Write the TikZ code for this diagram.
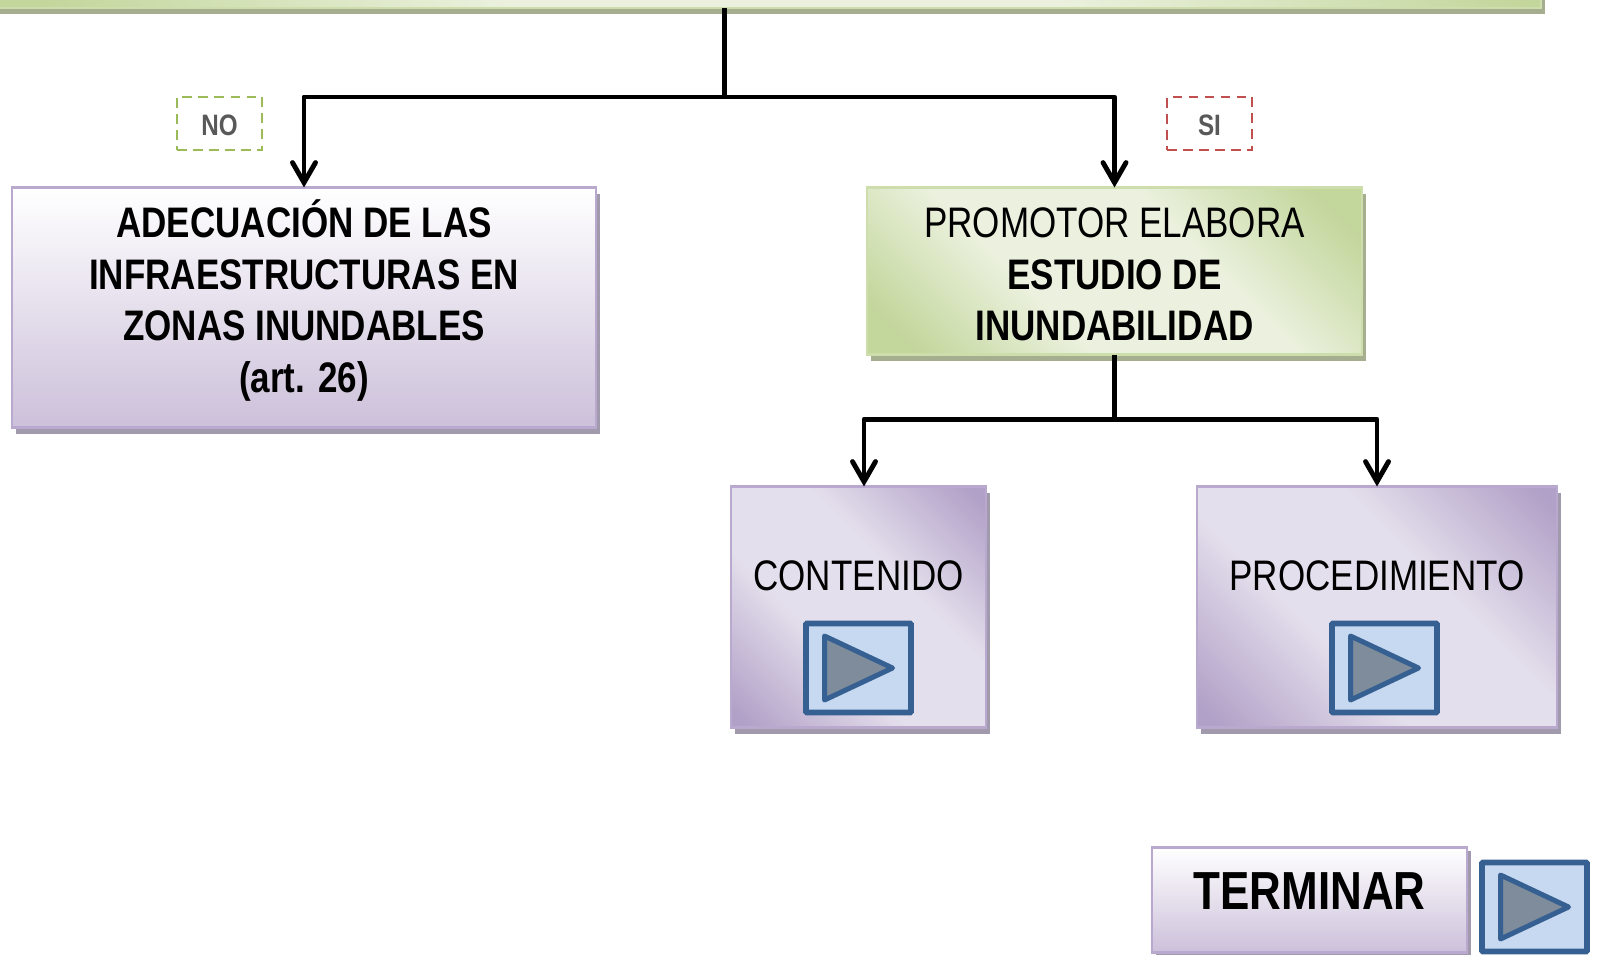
\documentclass[tikz,border=0pt]{standalone}
\usepackage{fontspec}
\setmainfont[FakeStretch=0.82]{Liberation Sans}
\usetikzlibrary{arrows.meta, positioning, shadows}

\definecolor{purpleline}{HTML}{B9A9CE}
\definecolor{purpledark}{HTML}{B1A0C7}
\definecolor{purplelight}{HTML}{E4DFEC}
\definecolor{purpleend}{HTML}{CCC0DA}
\definecolor{purpleshadow}{HTML}{A09AAC}
\definecolor{greenline}{HTML}{CDDDAC}
\definecolor{greendark}{HTML}{C3D69B}
\definecolor{greenlight}{HTML}{EBF1DE}
\definecolor{greenshadow}{HTML}{A5AF90}
\definecolor{btnline}{HTML}{376092}
\definecolor{btnfill}{HTML}{C6D9F1}
\definecolor{btnmark}{HTML}{7F8C9C}
\definecolor{notext}{HTML}{595959}
\definecolor{noline}{HTML}{9BBB59}
\definecolor{siline}{HTML}{C0504D}

\pgfdeclareverticalshading{purpleband}{100bp}{color(0bp)=(purpledark); color(17bp)=(purpledark); color(40bp)=(purplelight); color(60bp)=(purplelight); color(83bp)=(purpledark); color(100bp)=(purpledark)}
\pgfdeclareverticalshading{greenband}{100bp}{color(0bp)=(greendark); color(20bp)=(greendark); color(39bp)=(greenlight); color(61bp)=(greenlight); color(80bp)=(greendark); color(100bp)=(greendark)}

\tikzstyle{basebox}=[rectangle, outer sep=0pt, align=center, text=black, font=\fontsize{24.3}{29.3}\selectfont]
\tikzstyle{purplebox}=[basebox, draw=purpleline, line width=0.05cm, top color=white, bottom color=purpleend, drop shadow={shadow xshift=0.08cm, shadow yshift=-0.13cm, fill=purpleshadow, opacity=1}]
\tikzstyle{bandbox}=[basebox, draw=purpleline, line width=0.05cm, shading=purpleband, shading angle=-45, drop shadow={shadow xshift=0.08cm, shadow yshift=-0.13cm, fill=purpleshadow, opacity=1}]
\tikzstyle{greenbox}=[basebox, draw=greenline, line width=0.05cm, shading=greenband, shading angle=-45, drop shadow={shadow xshift=0.08cm, shadow yshift=-0.12cm, fill=greenshadow, opacity=1}]
\tikzstyle{tag}=[rectangle, outer sep=0pt, dash pattern=on 0.19cm off 0.13cm, line width=0.05cm, minimum width=1.7cm, minimum height=1.06cm, text=notext, text height=0.48cm, font=\fontsize{16.8}{20}\selectfont\bfseries]
\tikzstyle{btn}=[rectangle, outer sep=0pt, draw=btnline, line width=0.115cm, rounded corners=0.02cm, fill=btnfill, minimum width=2.1cm, minimum height=1.78cm]
\tikzstyle{play}=[draw=btnline, line width=0.1cm, line join=round, fill=btnmark]
\tikzstyle{arr}=[line width=0.098cm, line join=round, -{Straight Barb[length=0.4cm, width=0.46cm, line cap=round]}]
\tikzstyle{wire}=[line width=0.098cm, line join=round]

\begin{document}
\begin{tikzpicture}
    \useasboundingbox (0,0) rectangle (31.96,-19.08);
    \clip (0,0) rectangle (31.96,-19.08);

    \node [greenbox, minimum width=32.66cm, minimum height=2.6cm, anchor=south east](topbox) at (30.82,-0.16) {};
    \node [purplebox, minimum width=11.68cm, minimum height=4.8cm, anchor=north west](adecuacion) at (0.24,-3.75) {};
    \node [greenbox, minimum width=9.9cm, minimum height=3.34cm, right=5.42cm of adecuacion.north east, anchor=north west](promotor) {};
    \node [bandbox, minimum width=5.1cm, minimum height=4.82cm, below=2.64cm of promotor.south west, anchor=north west, xshift=-2.72cm](contenido) {};
    \node [bandbox, minimum width=7.2cm, minimum height=4.82cm, right=4.22cm of contenido.north east, anchor=north west](procedimiento) {};
    \node [purplebox, minimum width=6.3cm, minimum height=2.1cm, below=2.4cm of procedimiento.south west, anchor=north west, xshift=-0.9cm, drop shadow={shadow xshift=0.08cm, shadow yshift=-0.06cm, fill=purpleshadow, opacity=1}](terminar) {};

    \node [basebox] (adecuaciontext) at ([yshift=0.14cm]adecuacion.center) {\bfseries ADECUACIÓN DE LAS\\\bfseries INFRAESTRUCTURAS EN\\\bfseries ZONAS INUNDABLES\\\bfseries (art. 26)};
    \node [basebox] (promotortext) at ([yshift=-0.07cm]promotor.center) {PROMOTOR ELABORA\\\bfseries ESTUDIO DE\\\bfseries INUNDABILIDAD};
    \node [basebox, font=\fontsize{30.5}{36}\selectfont\bfseries] (terminartext) at ([yshift=0.18cm]terminar.center) {TERMINAR};

    \node [tag, draw=noline, above=0.75cm of adecuacion.north west, anchor=south west, xshift=3.3cm](no) {NO};
    \node [tag, draw=siline, above=0.75cm of promotor.north east, anchor=south east, xshift=-2.2cm](si) {SI};

    \node [basebox, below=1.78cm of contenido.north, anchor=center](contenidotext) {CONTENIDO};
    \node [basebox, below=1.78cm of procedimiento.north, anchor=center](procedimientotext) {PROCEDIMIENTO};

    \node [btn, above=0.3cm of contenido.south, anchor=south](btna) {};
    \node [btn, above=0.3cm of procedimiento.south, anchor=south, xshift=0.15cm](btnb) {};
    \node [btn, right=0.3cm of terminar.north east, anchor=north west, yshift=-0.3cm](btnc) {};

    \draw [play] ([shift={(-0.68,0.64)}]btna.center) -- ++(1.36,-0.64) -- ++(-1.36,-0.64) -- cycle;
    \draw [play] ([shift={(-0.68,0.64)}]btnb.center) -- ++(1.36,-0.64) -- ++(-1.36,-0.64) -- cycle;
    \draw [play] ([shift={(-0.68,0.64)}]btnc.center) -- ++(1.36,-0.64) -- ++(-1.36,-0.64) -- cycle;

    \coordinate [below=1.78cm of topbox.south](branch);
    \coordinate [below=1.3cm of promotor.south](split);

    \draw [wire] (topbox.south) -- (branch);
    \draw [arr] (branch) -| (adecuacion.north);
    \draw [arr] (branch) -| (promotor.north);
    \draw [wire] (promotor.south) -- (split);
    \draw [arr] (split) -| ([xshift=0.11cm]contenido.north);
    \draw [arr] (split) -| (procedimiento.north);
\end{tikzpicture}
\end{document}
